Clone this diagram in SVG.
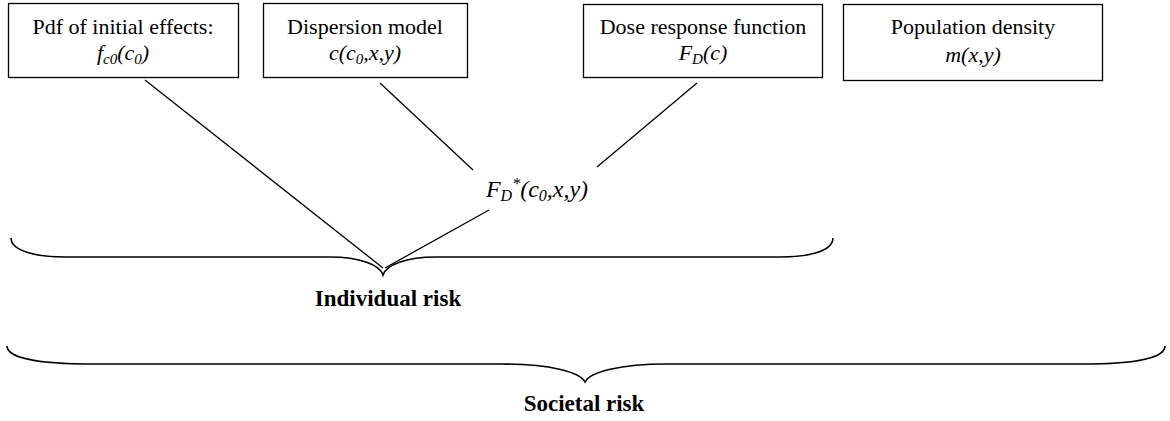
<svg xmlns="http://www.w3.org/2000/svg" width="1170" height="421" viewBox="0 0 1170 421">
  <style>
    .box { fill: #ffffff; stroke: #000000; stroke-width: 1.3; }
    .lbl { font-family: 'Liberation Serif', 'Times New Roman', 'DejaVu Serif', serif; font-size: 22px; fill: #000000; text-anchor: middle; }
    .math { font-style: italic; }
    .bold { font-weight: bold; }
    .sub { font-size: 15px; }
    .conn { stroke: #000000; stroke-width: 1.3; fill: none; }
    .brace { stroke: #000000; stroke-width: 1.6; fill: none; }
  </style>

  <!-- input boxes -->
  <g id="pdf">
    <rect class="box" x="8.5" y="3.5" width="230" height="74"/>
    <text class="lbl" x="123" y="34">Pdf of initial effects:</text>
    <text class="lbl math" x="123" y="60">f<tspan class="sub" dy="4">c0</tspan><tspan dy="-4">(c</tspan><tspan class="sub" dy="4">0</tspan><tspan dy="-4">)</tspan></text>
  </g>

  <g id="dispersion">
    <rect class="box" x="263.5" y="3.5" width="204" height="74"/>
    <text class="lbl" x="365" y="34">Dispersion model</text>
    <text class="lbl math" x="365" y="60">c(c<tspan class="sub" dy="4">0</tspan><tspan dy="-4">,x,y)</tspan></text>
  </g>

  <g id="dose">
    <rect class="box" x="583.5" y="4.5" width="239" height="73"/>
    <text class="lbl" x="703" y="34">Dose response function</text>
    <text class="lbl math" x="703" y="60">F<tspan class="sub" dy="4">D</tspan><tspan dy="-4">(c)</tspan></text>
  </g>

  <g id="population">
    <rect class="box" x="843.5" y="4.5" width="259" height="76"/>
    <text class="lbl" x="973" y="34">Population density</text>
    <text class="lbl math" x="973" y="62">m(x,y)</text>
  </g>

  <!-- combined dose response -->
  <g id="combined">
    <text class="lbl math" x="537" y="197" style="font-size:24px">F<tspan style="font-size:16px" dy="4">D</tspan><tspan style="font-size:16px" dy="-12">*</tspan><tspan dy="8">(c</tspan><tspan style="font-size:16px" dy="4">0</tspan><tspan dy="-4">,x,y)</tspan></text>
  </g>

  <!-- connectors -->
  <g id="connectors">
    <line class="conn" x1="145" y1="80" x2="383" y2="268"/>
    <line class="conn" x1="380" y1="83" x2="473" y2="170"/>
    <line class="conn" x1="697" y1="83" x2="597" y2="167"/>
    <line class="conn" x1="489" y1="210" x2="385" y2="268"/>
  </g>

  <!-- individual risk brace -->
  <g id="individual-risk">
    <path class="brace" d="M11,238 C11,252 40,257 65,257 L330,257 C360,257 380,265 383,275 C386,265 406,257 436,257 L780,257 C806,257 833,252 833,238"/>
    <text class="lbl bold" x="388" y="306" style="font-size:23px">Individual risk</text>
  </g>

  <!-- societal risk brace -->
  <g id="societal-risk">
    <path class="brace" d="M7,346 C7,360 50,364 93,364 L500,364 C550,364 580,372 585,382 C590,372 620,364 667,364 L1083,364 C1125,364 1165,360 1165,346"/>
    <text class="lbl bold" x="584" y="411" style="font-size:23px">Societal risk</text>
  </g>
</svg>
